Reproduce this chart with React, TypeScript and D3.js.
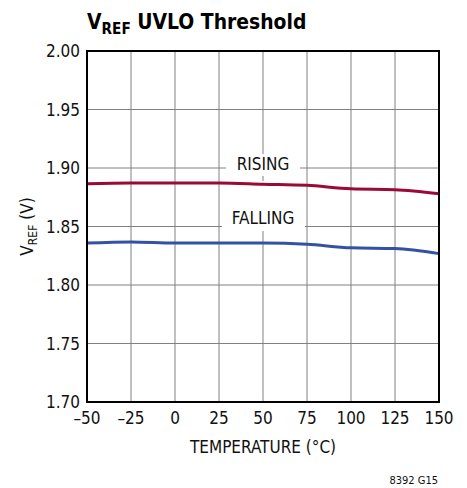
import React from "react";
import * as d3 from "d3";

const temps = [-50, -25, 0, 25, 50, 75, 100, 125, 150];
const rising = [1.8865, 1.8872, 1.8872, 1.8872, 1.8862, 1.8852, 1.8822, 1.8815, 1.878];
const falling = [1.8358, 1.8368, 1.8358, 1.8358, 1.8358, 1.8348, 1.8318, 1.8312, 1.8268];
const xTicks = [-50, -25, 0, 25, 50, 75, 100, 125, 150];
const yTicks = [1.7, 1.75, 1.8, 1.85, 1.9, 1.95, 2.0];

const FONT = "'Liberation Sans Narrow', 'DejaVu Sans Condensed', 'Roboto Condensed', Arial, sans-serif";

export default function App() {
  const W = 467, H = 488;
  const L = 87, R = 439, T = 51, B = 402;
  const x = d3.scaleLinear().domain([-50, 150]).range([L, R]);
  const y = d3.scaleLinear().domain([1.7, 2.0]).range([B, T]);
  const line = d3
    .line<number>()
    .x((_, i) => x(temps[i]))
    .y((d) => y(d))
    .curve(d3.curveMonotoneX);
  const fmtX = (v: number) => (v < 0 ? "\u2013" + Math.abs(v) : String(v));
  return (
    <svg width={W} height={H} style={{ position: "absolute", left: 0, top: 0 }} fontFamily={FONT}>
      <rect x={0} y={0} width={W} height={H} fill="#fff" />
      <text transform="translate(87,29) scale(0.95,1)" fontSize={22} fontWeight="bold" fill="#000">
        V<tspan fontSize={16} dy={5}>REF</tspan>
        <tspan dy={-5}> UVLO Threshold</tspan>
      </text>
      {xTicks.slice(1, -1).map((t) => (
        <line key={"gx" + t} x1={x(t)} x2={x(t)} y1={T} y2={B} stroke="#808080" strokeWidth={1} />
      ))}
      {yTicks.slice(1, -1).map((t) => (
        <line key={"gy" + t} x1={L} x2={R} y1={y(t)} y2={y(t)} stroke="#808080" strokeWidth={1} />
      ))}
      <rect x={226} y={154} width={74} height={22} fill="#fff" />
      <rect x={222} y={181} width={83} height={50} fill="#fff" />
      <text x={x(50)} y={170} textAnchor="middle" fontSize={17} fill="#111">RISING</text>
      <text x={x(50)} y={224} textAnchor="middle" fontSize={17} fill="#111">FALLING</text>
      <path d={line(rising) || ""} fill="none" stroke="#9b0a36" strokeWidth={3} />
      <path d={line(falling) || ""} fill="none" stroke="#3352a3" strokeWidth={3} />
      <rect x={L} y={T} width={R - L} height={B - T} fill="none" stroke="#000" strokeWidth={2} />
      {yTicks.map((t) => (
        <text key={"ty" + t} x={80} y={y(t) + 6} textAnchor="end" fontSize={17} fill="#111">
          {t.toFixed(2)}
        </text>
      ))}
      {xTicks.map((t) => (
        <text key={"tx" + t} x={x(t)} y={424} textAnchor="middle" fontSize={17} fill="#111">
          {fmtX(t)}
        </text>
      ))}
      <text x={x(50)} y={453} textAnchor="middle" fontSize={17} fill="#111">TEMPERATURE (°C)</text>
      <text transform={`translate(33, ${(T + B) / 2}) rotate(-90)`} textAnchor="middle" fontSize={17} fill="#111">
        V<tspan fontSize={12} dy={4}>REF</tspan>
        <tspan dy={-4}> (V)</tspan>
      </text>
      <text x={438} y={484} textAnchor="end" fontSize={11} fill="#111">8392 G15</text>
    </svg>
  );
}
